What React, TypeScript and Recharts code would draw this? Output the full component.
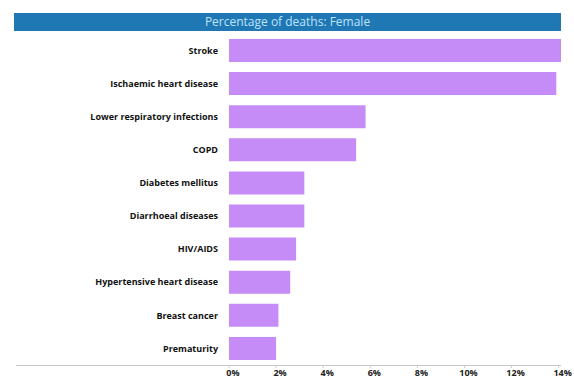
import { Bar, BarChart, XAxis, YAxis } from "recharts";

const causes = [
  "Stroke",
  "Ischaemic heart disease",
  "Lower respiratory infections",
  "COPD",
  "Diabetes mellitus",
  "Diarrhoeal diseases",
  "HIV/AIDS",
  "Hypertensive heart disease",
  "Breast cancer",
  "Prematurity",
];
const shares = [14.1, 13.9, 5.8, 5.4, 3.2, 3.2, 2.85, 2.6, 2.1, 2.0];
const xTicks = [0, 2, 4, 6, 8, 10, 12, 14];

const data = causes.map((cause, i) => ({ cause, share: shares[i] }));

const FONT = "'Open Sans', 'DejaVu Sans', sans-serif";

export default function App() {
  return (
    <div style={{ position: "absolute", left: 0, top: 0, width: 574, height: 385, background: "#fff", fontFamily: FONT }}>
      <div
        style={{
          position: "absolute",
          left: 14,
          top: 13,
          width: 547,
          height: 18,
          background: "#1f78b4",
          color: "#bfe3fb",
          fontSize: 12,
          lineHeight: "18px",
          textAlign: "center",
        }}
      >
        Percentage of deaths: Female
      </div>
      <div style={{ position: "absolute", left: 16, top: 365, width: 545, height: 1, background: "#c8c8c8" }} />
      <BarChart
        width={574}
        height={385}
        data={data}
        layout="vertical"
        margin={{ top: 34, right: 13, bottom: 0, left: 0 }}
        barCategoryGap={10}
      >
        <XAxis
          type="number"
          domain={[0, 14.1]}
          ticks={xTicks}
          tickFormatter={(v) => `${v}%`}
          axisLine={false}
          tickLine={{ stroke: "#cccccc" }}
          tickSize={3}
          height={20}
          tick={{ fontSize: 9, fontWeight: 700, fill: "#222", fontFamily: FONT, dx: 4 }}
        />
        <YAxis
          type="category"
          dataKey="cause"
          width={229}
          axisLine={false}
          tickLine={false}
          tickMargin={5}
          tick={{ fontSize: 9, fontWeight: 700, fill: "#111", fontFamily: FONT }}
        />
        <Bar dataKey="share" fill="#c58cf7" barSize={23} isAnimationActive={false} />
      </BarChart>
    </div>
  );
}
